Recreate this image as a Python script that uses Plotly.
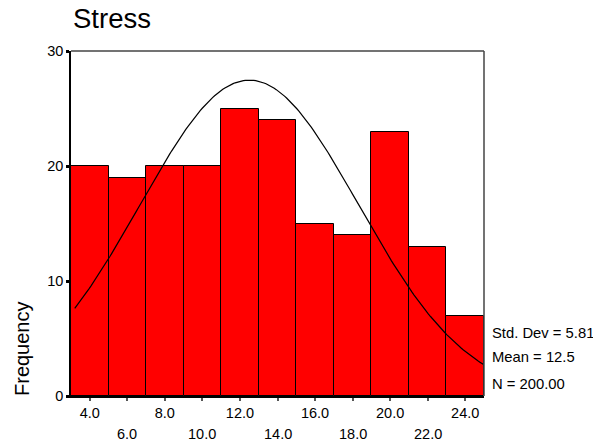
import numpy as np
import plotly.graph_objects as go

# Data
bin_centers = [4, 6, 8, 10, 12, 14, 16, 18, 20, 22, 24]
frequencies = [20, 19, 20, 20, 25, 24, 15, 14, 23, 13, 7]
bin_width = 2.0

# Summary statistics shown in the chart
std_dev = 5.81
mean_val = 12.5
n_total = 200

tick_row1 = [4, 8, 12, 16, 20, 24]
tick_row2 = [6, 10, 14, 18, 22]
y_ticks = [0, 10, 20, 30]

FONT = "Liberation Sans, Arial, sans-serif"

# Fitted normal curve defined by the displayed statistics
curve_x = np.linspace(3.2, 25.0, 200)
curve_y = n_total * bin_width / (std_dev * np.sqrt(2 * np.pi)) * np.exp(
    -0.5 * ((curve_x - mean_val) / std_dev) ** 2)

fig = go.Figure()
fig.add_trace(go.Bar(
    x=bin_centers, y=frequencies, width=bin_width,
    marker=dict(color="#FF0000", line=dict(color="black", width=1)),
    hoverinfo="skip",
))
fig.add_trace(go.Scatter(
    x=curve_x, y=curve_y, mode="lines",
    line=dict(color="black", width=1.2), hoverinfo="skip",
))

PW, PH = 413, 345  # plot area size in px

annotations = []
for v in tick_row2:
    annotations.append(dict(
        x=v, y=0, xref="x", yref="paper", text=f"{v:.1f}", showarrow=False,
        yanchor="top", yshift=-28, font=dict(family=FONT, size=14.5, color="black")))

stats = [f"Std. Dev = {std_dev:.2f}", f"Mean = {mean_val}", f"N = {n_total:.2f}"]
stat_y = [333, 357, 384]
for t, py in zip(stats, stat_y):
    annotations.append(dict(
        x=(490 - 71) / PW, y=(396 - py) / PH, xref="paper", yref="paper",
        text=t, showarrow=False, xanchor="left", yanchor="middle",
        font=dict(family=FONT, size=14.8, color="black")))

annotations.append(dict(
    x=0, y=(396 - 19) / PH, xref="paper", yref="paper",
    text="Stress", showarrow=False, xanchor="left", yanchor="middle",
    font=dict(family=FONT, size=27.5, color="black")))

annotations.append(dict(
    x=(22 - 71) / PW, y=(396 - 349) / PH, xref="paper", yref="paper",
    text="Frequency", showarrow=False, textangle=-90, xanchor="center", yanchor="middle",
    font=dict(family=FONT, size=20, color="black")))

fig.update_layout(
    width=593, height=444,
    margin=dict(l=71, r=109, t=51, b=48),
    paper_bgcolor="white", plot_bgcolor="white",
    showlegend=False, bargap=0,
    font=dict(family=FONT, size=14.5, color="black"),
    annotations=annotations,
    shapes=[
        dict(type="line", xref="paper", yref="paper", x0=0, x1=1, y0=1, y1=1,
             line=dict(color="#444444", width=1.5)),
        dict(type="line", xref="paper", yref="paper", x0=1, x1=1, y0=0, y1=1,
             line=dict(color="#444444", width=1.5)),
    ],
    xaxis=dict(
        range=[3, 25], showgrid=False, zeroline=False,
        showline=True, linecolor="black", linewidth=1.5,
        tickmode="array", tickvals=list(range(4, 25, 2)),
        ticktext=[f"{v:.1f}" if v in tick_row1 else "" for v in range(4, 25, 2)],
        ticks="outside", ticklen=3, tickwidth=2, tickcolor="#555555",
        tickfont=dict(family=FONT, size=14.5, color="black"),
    ),
    yaxis=dict(
        range=[0, 30], showgrid=False, zeroline=False,
        showline=True, linecolor="black", linewidth=1.5,
        tickmode="array", tickvals=y_ticks,
        ticks="outside", ticklen=3, tickwidth=3, tickcolor="black",
        tickfont=dict(family=FONT, size=14.5, color="black"),
    ),
)

# remove the page's default 8px body margin so the chart fills the window exactly
fig.write_html("out.html", config={"displayModeBar": False},
               post_script="document.body.style.margin='0';")
